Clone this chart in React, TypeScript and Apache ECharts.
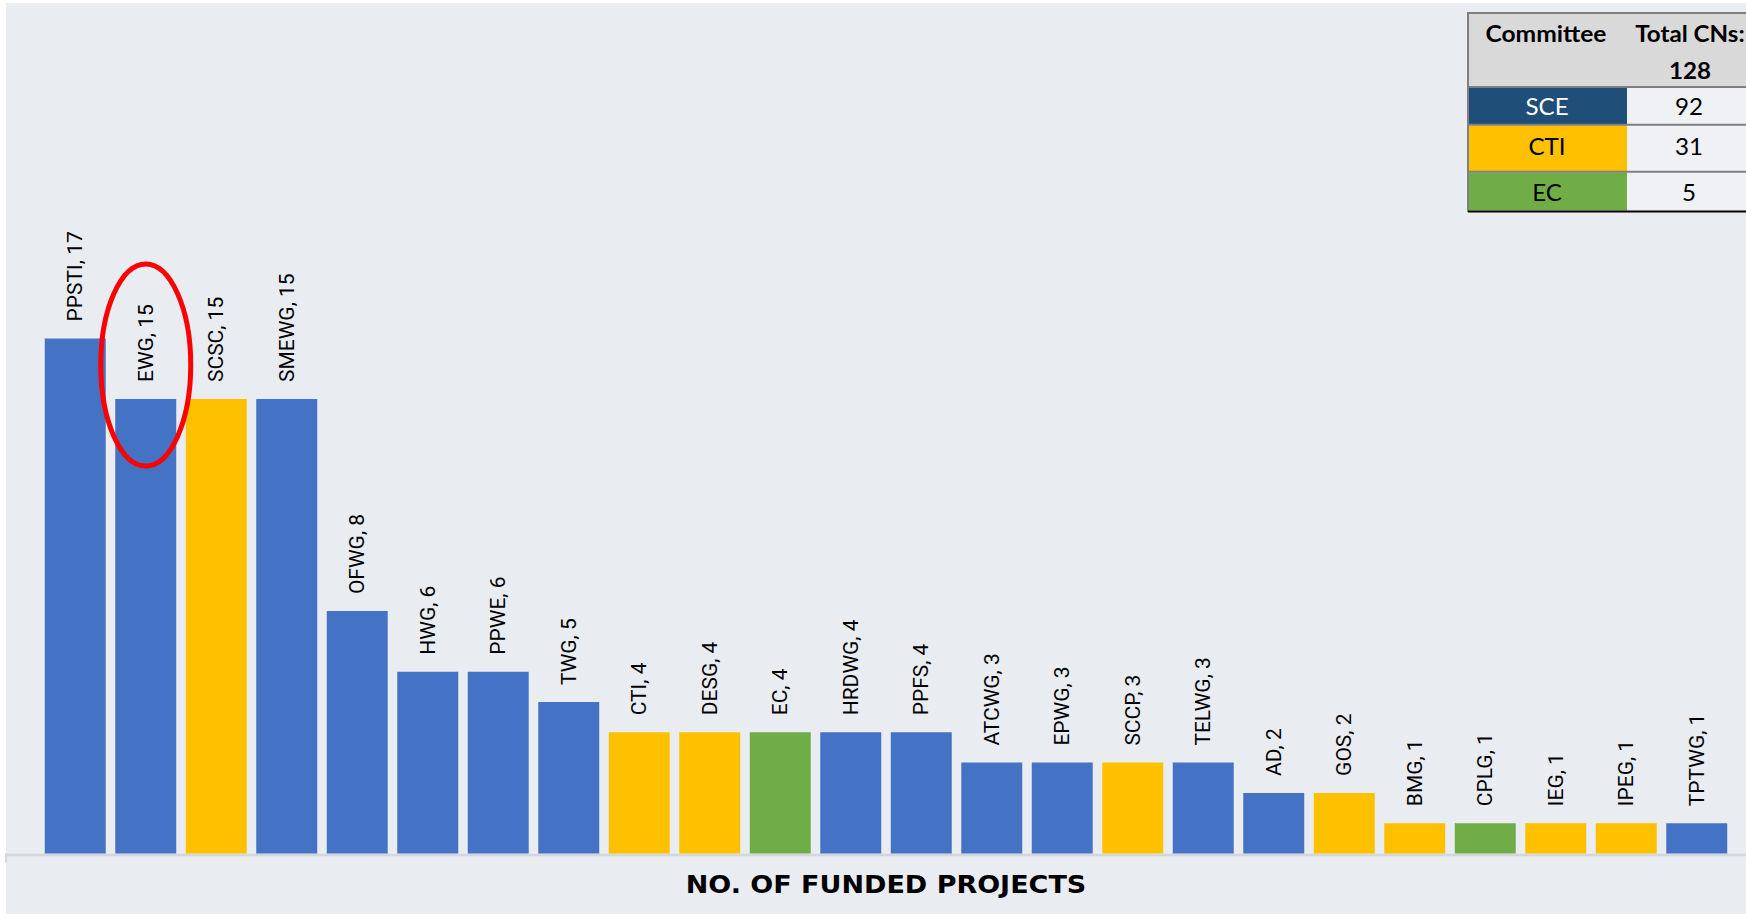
import React, { useEffect, useRef } from "react";
import * as echarts from "echarts";

const categories = ["PPSTI", "EWG", "SCSC", "SMEWG", "OFWG", "HWG", "PPWE", "TWG", "CTI", "DESG", "EC", "HRDWG", "PPFS", "ATCWG", "EPWG", "SCCP", "TELWG", "AD", "GOS", "BMG", "CPLG", "IEG", "IPEG", "TPTWG"];
const values = [17, 15, 15, 15, 8, 6, 6, 5, 4, 4, 4, 4, 4, 3, 3, 3, 3, 2, 2, 1, 1, 1, 1, 1];
const committees = ["SCE", "SCE", "CTI", "SCE", "SCE", "SCE", "SCE", "SCE", "CTI", "CTI", "EC", "SCE", "SCE", "SCE", "SCE", "CTI", "SCE", "SCE", "CTI", "CTI", "EC", "CTI", "CTI", "SCE"];
const barColors: Record<string, string> = { SCE: "#4472C4", CTI: "#FFC000", EC: "#70AD47" };

const tableCommittees = ["SCE", "CTI", "EC"];
const tableTotals = [92, 31, 5];
const tableTotalAll = 128;
const tableCellColors: Record<string, string> = { SCE: "#1F4E79", CTI: "#FFC000", EC: "#70AD47" };
const tableTextColors: Record<string, string> = { SCE: "#FFFFFF", CTI: "#000000", EC: "#000000" };

const axisTitle = "NO. OF FUNDED PROJECTS";
const highlighted = "EWG";

const W = 1746;
const H = 914;

export default function App() {
  const ref = useRef<HTMLDivElement>(null);
  useEffect(() => {
    if (!ref.current) return;
    const chart = echarts.init(ref.current, undefined, { renderer: "svg" });
    chart.setOption({
      animation: false,
      backgroundColor: "#FFFFFF",
      grid: { left: 40, right: 14, top: 247.5, bottom: 60.5 },
      xAxis: {
        type: "category",
        data: categories,
        axisLine: { show: false },
        axisTick: { show: false },
        axisLabel: { show: false },
      },
      yAxis: { type: "value", min: 0, max: 20, show: false, splitLine: { show: false } },
      series: [
        {
          type: "bar",
          barCategoryGap: "13.5%",
          z: 5,
          data: values.map((v, i) => ({ value: v, itemStyle: { color: barColors[committees[i]] } })),
          label: {
            show: true,
            position: "top",
            rotate: 90,
            align: "left",
            verticalAlign: "middle",
            distance: 17,
            formatter: "{b}, {c}",
            fontFamily: "Roboto",
            fontSize: 21,
            color: "#000000",
          },
        },
      ],
    });

    const idx = categories.indexOf(highlighted);
    const [ex, ey] = chart.convertToPixel({ gridIndex: 0 }, [categories[idx], values[idx]]) as number[];
    const [, baseY] = chart.convertToPixel({ gridIndex: 0 }, [categories[0], 0]) as number[];

    const tL = 1468, tDiv = 1627, tR = 1752;
    const rowBounds = [[88, 124], [125.5, 171], [172.5, 210.5]];
    const rowTextY = [106.5, 146, 192.5];
    const graphic: any[] = [
      { type: "rect", z: 0, silent: true, shape: { x: 6, y: 3, width: W - 6, height: H - 3 }, style: { fill: "#E9EDF2" } },
      { type: "line", z: 1, shape: { x1: 5, y1: baseY + 1.5, x2: W, y2: baseY + 1.5 }, style: { stroke: "#D3D6DA", lineWidth: 2.5 } },
      { type: "line", z: 1, shape: { x1: 6, y1: baseY, x2: 6, y2: baseY + 9 }, style: { stroke: "#D3D6DA", lineWidth: 2 } },
      { type: "ellipse", z: 20, shape: { cx: ex, cy: ey - 34, rx: 45, ry: 101 }, style: { fill: "transparent", stroke: "#FF0000", lineWidth: 5 } },
      {
        type: "text", z: 20, x: (40 + W - 14) / 2, y: 884, scaleX: 1.08,
        style: { text: axisTitle, fontFamily: "DejaVu Sans", fontWeight: "bold", fontSize: 25, fill: "#000000", align: "center", verticalAlign: "middle" },
      },
      // table header
      { type: "rect", z: 20, shape: { x: tL, y: 13, width: tR - tL, height: 74 }, style: { fill: "#D9D9D9" } },
      {
        type: "text", z: 21, x: 1546, y: 33, scaleX: 1.07,
        style: { text: "Committee", fontFamily: "Lato", fontWeight: "bold", fontSize: 23, fill: "#000", align: "center", verticalAlign: "middle" },
      },
      {
        type: "text", z: 21, x: 1690, y: 33, scaleX: 1.05,
        style: { text: "Total CNs:", fontFamily: "Lato", fontWeight: "bold", fontSize: 23, fill: "#000", align: "center", verticalAlign: "middle" },
      },
      {
        type: "text", z: 21, x: 1690, y: 70, scaleX: 1.05,
        style: { text: String(tableTotalAll), fontFamily: "Lato", fontWeight: "bold", fontSize: 23, fill: "#000", align: "center", verticalAlign: "middle" },
      },
    ];
    tableCommittees.forEach((c, i) => {
      const [y0, y1] = rowBounds[i];
      graphic.push({ type: "rect", z: 20, shape: { x: tL, y: y0, width: tDiv - tL, height: y1 - y0 }, style: { fill: tableCellColors[c] } });
      graphic.push({ type: "rect", z: 20, shape: { x: tDiv, y: y0, width: tR - tDiv, height: y1 - y0 }, style: { fill: "#EFF1F5" } });
      graphic.push({
        type: "text", z: 21, x: 1547, y: rowTextY[i], scaleX: 1.05,
        style: { text: c, fontFamily: "Lato", fontSize: 23, fill: tableTextColors[c], align: "center", verticalAlign: "middle" },
      });
      graphic.push({
        type: "text", z: 21, x: 1689, y: rowTextY[i], scaleX: 1.05,
        style: { text: String(tableTotals[i]), fontFamily: "Lato", fontSize: 23, fill: "#000", align: "center", verticalAlign: "middle" },
      });
    });
    // table lines
    graphic.push({ type: "line", z: 22, shape: { x1: tL, y1: 13, x2: tR, y2: 13 }, style: { stroke: "#7F7F7F", lineWidth: 2 } });
    graphic.push({ type: "line", z: 22, shape: { x1: tL, y1: 12, x2: tL, y2: 212 }, style: { stroke: "#7F7F7F", lineWidth: 2 } });
    graphic.push({ type: "line", z: 22, shape: { x1: tL, y1: 87, x2: tR, y2: 87 }, style: { stroke: "#7F7F7F", lineWidth: 2 } });
    graphic.push({ type: "line", z: 22, shape: { x1: tL, y1: 124.8, x2: tR, y2: 124.8 }, style: { stroke: "#7F7F7F", lineWidth: 2 } });
    graphic.push({ type: "line", z: 22, shape: { x1: tL, y1: 171.8, x2: tR, y2: 171.8 }, style: { stroke: "#7F7F7F", lineWidth: 2 } });
    graphic.push({ type: "line", z: 22, shape: { x1: tL, y1: 211.5, x2: tR, y2: 211.5 }, style: { stroke: "#000000", lineWidth: 2 } });

    chart.setOption({ graphic });
    return () => chart.dispose();
  }, []);
  return <div ref={ref} style={{ position: "fixed", left: 0, top: 0, width: W, height: H }} />;
}
